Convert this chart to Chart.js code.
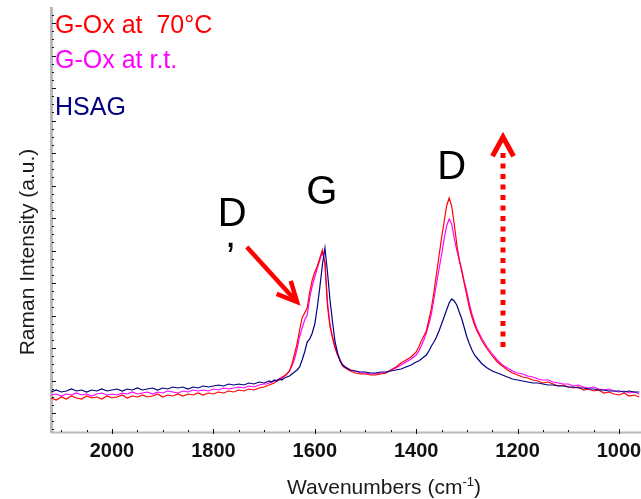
<!DOCTYPE html>
<html>
<head>
<meta charset="utf-8">
<script src="https://cdn.jsdelivr.net/npm/chart.js@4"></script>
<style>
  html, body { margin: 0; padding: 0; background: #fff; }
  #wrap { width: 641px; height: 499px; }
</style>
</head>
<body>
<div id="wrap"><canvas id="ramanChart" width="641" height="499"></canvas></div>
<script>
// Raman spectra (intensity in a.u.)
const wavenumbers = [
  2120, 2110, 2100, 2090, 2080, 2070, 2060, 2050, 2040, 2030, 2020, 2010, 2000, 1990, 1980,
  1970, 1960, 1950, 1940, 1930, 1920, 1910, 1900, 1890, 1880, 1870, 1860, 1850, 1840, 1830,
  1820, 1810, 1800, 1790, 1780, 1770, 1760, 1750, 1740, 1730, 1720, 1710, 1700,
  1695, 1690, 1685, 1680, 1675, 1670, 1665, 1660, 1655, 1650, 1645, 1640, 1635, 1630, 1625,
  1620, 1615, 1610, 1605, 1600, 1595, 1590, 1585, 1580, 1575, 1570, 1565, 1560, 1555, 1550,
  1545, 1540,
  1530, 1520, 1510, 1500, 1490, 1480, 1470, 1460, 1450, 1440, 1430, 1420, 1410, 1400,
  1395, 1390, 1385, 1380, 1375, 1370, 1365, 1360, 1355, 1350, 1345, 1340, 1335, 1330, 1325,
  1320, 1315, 1310, 1305, 1300, 1295, 1290, 1285, 1280, 1275, 1270, 1265, 1260,
  1250, 1240, 1230, 1220, 1210, 1200, 1190, 1180, 1170, 1160, 1150, 1140, 1130, 1120, 1110,
  1100, 1090, 1080, 1070, 1060, 1050, 1040, 1030, 1020, 1010, 1000, 990, 980, 970, 960,
];

const gOx70 = [
  34, 32, 35, 33, 36, 34, 33, 36, 34, 35, 33, 36, 34, 35, 37, 34, 36, 35, 37, 35,
  36, 38, 35, 37, 36, 38, 36, 38, 37, 39, 37, 39, 38, 40, 39, 41, 40, 42, 41, 43,
  42, 44, 45,
  46, 47, 48, 49, 51, 52, 54, 56, 58, 61, 68, 78, 88, 102, 114, 119, 124, 140, 152, 160,
  166, 174, 182, 168, 126, 105, 94, 84, 77, 71, 66, 64,
  61, 59, 58, 58, 57, 57, 58, 59, 62, 65, 69, 72, 75, 80,
  85, 91, 96, 101, 112, 124, 140, 158, 176, 194, 210, 226, 234, 226, 208, 188, 172, 160,
  148, 136, 124, 115, 107, 101, 96, 91, 87, 83,
  76, 70, 66, 62, 59, 57, 55, 54, 52, 51, 49, 50, 48, 46, 47, 45, 44, 45, 42, 43,
  41, 42, 39, 40, 38, 37, 39, 36, 37, 35,
];

const gOxRt = [
  37, 38, 36, 38, 37, 39, 37, 38, 36, 38, 39, 37, 38, 37, 39, 38, 40, 38, 39, 40,
  38, 40, 39, 41, 40, 39, 41, 40, 42, 41, 42, 41, 43, 42, 44, 43, 44, 45, 44, 46,
  45, 47, 48,
  48, 49, 50, 51, 52, 53, 55, 56, 58, 61, 66, 73, 83, 95, 104, 112, 117, 134, 146, 155,
  164, 172, 180, 170, 130, 108, 95, 85, 77, 72, 67, 65,
  62, 61, 59, 59, 58, 58, 59, 59, 62, 64, 67, 70, 73, 77,
  81, 86, 92, 99, 108, 118, 133, 148, 163, 177, 193, 206, 213, 208, 194, 182, 172, 162,
  150, 140, 128, 118, 110, 103, 98, 93, 89, 85,
  78, 72, 67, 64, 61, 59, 58, 56, 55, 53, 52, 52, 50, 49, 48, 48, 46, 47, 45, 44,
  45, 43, 42, 43, 41, 40, 41, 39, 40, 38,
];

const hsag = [
  40, 42, 40, 41, 43, 41, 42, 40, 42, 41, 43, 41, 42, 43, 41, 43, 42, 44, 42, 43,
  44, 42, 44, 43, 45, 44, 45, 43, 45, 44, 46, 45, 46, 47, 46, 48, 47, 48, 47, 49,
  48, 50, 49,
  50, 51, 50, 52, 51, 53, 52, 54, 55, 56, 58, 60, 62, 65, 72, 80, 90, 93, 99, 108,
  125, 145, 167, 184, 160, 132, 110, 90, 79, 71, 67, 65,
  62, 61, 60, 60, 59, 59, 60, 60, 61, 62, 63, 65, 67, 70,
  71, 73, 75, 77, 81, 86, 90, 95, 101, 108, 115, 122, 129, 133, 131, 127, 120, 113,
  104, 95, 88, 82, 77, 74, 71, 68, 66, 64,
  61, 59, 57, 55, 53, 52, 51, 50, 49, 49, 48, 47, 47, 46, 46, 45, 45, 44, 44, 43,
  43, 42, 42, 41, 41, 41, 40, 41, 40, 40,
];

const seriesLabels = ["G-Ox at  70°C", "G-Ox at r.t.", "HSAG"];
const seriesColors = ["#ff0000", "#ff00ff", "#000080"];
const xTickValues = [2000, 1800, 1600, 1400, 1200, 1000];
const xMinorStep = 50;
const yMajorTicks = [19, 51.5, 84, 116.5, 149, 181.5, 214, 246.5, 279, 311.5, 344, 376.5, 409];

const FONT = "'Liberation Sans', Arial, sans-serif";

function toPoints(values) {
  return values.map((v, i) => ({ x: wavenumbers[i], y: v }));
}

// axes, ticks, labels and peak annotations
const decorPlugin = {
  id: "decor",
  beforeDatasetsDraw(chart) {
    const { ctx, chartArea: area, scales } = chart;
    ctx.save();
    ctx.strokeStyle = "#b9b9b9";
    ctx.lineWidth = 3;
    ctx.beginPath();
    ctx.moveTo(area.left + 0.5, area.top);
    ctx.lineTo(area.left + 0.5, area.bottom + 1);
    ctx.stroke();
    ctx.lineWidth = 2;
    ctx.beginPath();
    ctx.moveTo(area.left, area.bottom + 0.5);
    ctx.lineTo(area.right, area.bottom + 0.5);
    ctx.stroke();

    ctx.strokeStyle = "#111";
    ctx.lineWidth = 1;
    // x ticks (inside)
    for (let v = 2100; v >= 950; v -= xMinorStep) {
      const px = Math.round(scales.x.getPixelForValue(v)) + 0.5;
      if (px < area.left || px > area.right) continue;
      const major = xTickValues.includes(v);
      ctx.beginPath();
      ctx.moveTo(px, area.bottom + (major ? 2 : 0));
      ctx.lineTo(px, area.bottom - (major ? 3 : 2));
      ctx.stroke();
    }
    // y ticks (inside)
    const step = yMajorTicks[1] - yMajorTicks[0];
    for (let v = yMajorTicks[0] - step; v <= scales.y.max; v += step / 4) {
      const py = Math.round(scales.y.getPixelForValue(v)) + 0.5;
      if (py < area.top || py > area.bottom - 1) continue;
      const major = yMajorTicks.some((t) => Math.abs(t - v) < 0.01);
      ctx.beginPath();
      ctx.moveTo(area.left + 1, py);
      ctx.lineTo(area.left + (major ? 5 : 3), py);
      ctx.stroke();
    }
    ctx.restore();
  },
  afterDraw(chart) {
    const { ctx, scales } = chart;
    const px = (w) => scales.x.getPixelForValue(w);
    const py = (i) => scales.y.getPixelForValue(i);
    ctx.save();

    // legend text
    ctx.textBaseline = "alphabetic";
    ctx.textAlign = "left";
    ctx.font = "25px " + FONT;
    const legendY = [33, 68, 115];
    seriesLabels.forEach((label, i) => {
      ctx.fillStyle = seriesColors[i];
      ctx.fillText(label, 55, legendY[i]);
    });

    // axis titles
    ctx.fillStyle = "#1a1a1a";
    ctx.font = "21px " + FONT;
    ctx.save();
    ctx.translate(28, 252);
    ctx.rotate(-Math.PI / 2);
    ctx.textAlign = "center";
    ctx.textBaseline = "middle";
    ctx.fillText("Raman Intensity (a.u.)", 0, 0);
    ctx.restore();

    const base = "Wavenumbers (cm";
    ctx.font = "21px " + FONT;
    const wBase = ctx.measureText(base).width;
    const wClose = ctx.measureText(")").width;
    ctx.font = "13px " + FONT;
    const wSup = ctx.measureText("-1").width;
    let tx = 384 - (wBase + wSup + wClose) / 2;
    ctx.textAlign = "left";
    ctx.textBaseline = "alphabetic";
    ctx.font = "21px " + FONT;
    ctx.fillText(base, tx, 494);
    tx += wBase;
    ctx.font = "13px " + FONT;
    ctx.fillText("-1", tx, 486);
    tx += wSup;
    ctx.font = "21px " + FONT;
    ctx.fillText(")", tx, 494);

    // peak labels
    ctx.fillStyle = "#000";
    ctx.font = "40px " + FONT;
    ctx.textAlign = "center";
    ctx.textBaseline = "middle";
    ctx.fillText("G", px(1586), py(239));
    ctx.fillText("D", px(1330), py(264));
    ctx.fillText("D", px(1763), py(217));
    ctx.textBaseline = "alphabetic";
    ctx.fillText(",", px(1766), py(185));

    // D' arrow
    ctx.strokeStyle = "#ff0000";
    ctx.fillStyle = "#ff0000";
    ctx.lineWidth = 4.5;
    ctx.lineCap = "butt";
    const ax0 = px(1734), ay0 = py(185), ax1 = px(1635), ay1 = py(130);
    ctx.beginPath();
    ctx.moveTo(ax0, ay0);
    ctx.lineTo(ax1 - 2, ay1 - 2);
    ctx.stroke();
    drawHead(ctx, ax1, ay1, Math.atan2(ay0 - ay1, ax0 - ax1), 22, 0.45);

    // dotted vertical arrow (D band growth)
    const dx = Math.round(px(1229));
    ctx.lineWidth = 5;
    ctx.setLineDash([5, 5.5]);
    ctx.beginPath();
    ctx.moveTo(dx, py(85));
    ctx.lineTo(dx, py(279));
    ctx.stroke();
    ctx.setLineDash([]);
    drawHead(ctx, dx, py(295), Math.PI / 2, 22, 0.5);

    ctx.restore();
  },
};

function drawHead(ctx, x, y, backAngle, len, spread) {
  ctx.lineJoin = "miter";
  ctx.beginPath();
  ctx.moveTo(x + len * Math.cos(backAngle - spread), y + len * Math.sin(backAngle - spread));
  ctx.lineTo(x, y);
  ctx.lineTo(x + len * Math.cos(backAngle + spread), y + len * Math.sin(backAngle + spread));
  ctx.stroke();
}

const ctx = document.getElementById("ramanChart");
const chart = new Chart(ctx, {
  type: "line",
  data: {
    datasets: [
      { label: seriesLabels[0], data: toPoints(gOx70), borderColor: seriesColors[0], order: 1 },
      { label: seriesLabels[1], data: toPoints(gOxRt), borderColor: seriesColors[1], order: 2 },
      { label: seriesLabels[2], data: toPoints(hsag), borderColor: seriesColors[2], order: 0 },
    ],
  },
  options: {
    responsive: false,
    animation: false,
    layout: { padding: { top: 7, left: 0, right: 0, bottom: 0 } },
    elements: {
      point: { radius: 0 },
      line: { borderWidth: 1.2, tension: 0, fill: false },
    },
    plugins: {
      legend: { display: false },
      tooltip: { enabled: false },
    },
    scales: {
      x: {
        type: "linear",
        reverse: true,
        min: 956.6,
        max: 2120.3,
        afterBuildTicks: (scale) => {
          scale.ticks = xTickValues.map((v) => ({ value: v }));
        },
        afterFit: (scale) => {
          scale.height = 67;
          scale.paddingLeft = 0;
          scale.paddingRight = 0;
        },
        grid: { display: false, drawTicks: false },
        border: { display: false },
        ticks: {
          autoSkip: false,
          maxRotation: 0,
          padding: 7,
          color: "#111",
          font: { family: FONT, size: 20, weight: "bold" },
          callback: (value) => String(value),
        },
      },
      y: {
        min: 0,
        max: 425,
        afterFit: (scale) => {
          scale.width = 51;
        },
        grid: { display: false, drawTicks: false },
        border: { display: false },
        ticks: { display: false },
      },
    },
  },
  plugins: [decorPlugin],
});
</script>
</body>
</html>
